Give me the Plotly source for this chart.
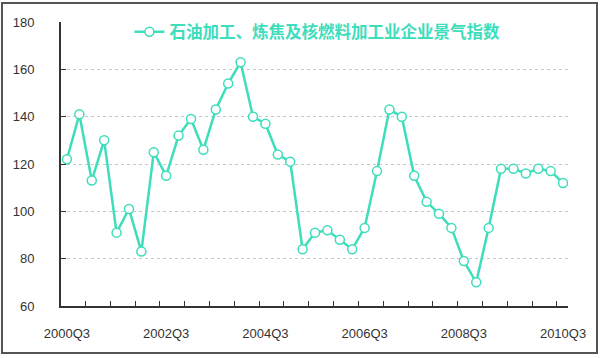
import plotly.graph_objects as go

quarters = ["2000Q3","2000Q4","2001Q1","2001Q2","2001Q3","2001Q4","2002Q1","2002Q2",
            "2002Q3","2002Q4","2003Q1","2003Q2","2003Q3","2003Q4","2004Q1","2004Q2",
            "2004Q3","2004Q4","2005Q1","2005Q2","2005Q3","2005Q4","2006Q1","2006Q2",
            "2006Q3","2006Q4","2007Q1","2007Q2","2007Q3","2007Q4","2008Q1","2008Q2",
            "2008Q3","2008Q4","2009Q1","2009Q2","2009Q3","2009Q4","2010Q1","2010Q2",
            "2010Q3"]
index_values = [122, 141, 113, 130, 91, 101, 83, 125, 115, 132, 139, 126, 143, 154,
                163, 140, 137, 124, 121, 84, 91, 92, 88, 84, 93, 117, 143, 140, 115,
                104, 99, 93, 79, 70, 93, 118, 118, 116, 118, 117, 112]
series_name = "石油加工、炼焦及核燃料加工业企业景气指数"
label_quarters = ["2000Q3", "2002Q3", "2004Q3", "2006Q3", "2008Q3", "2010Q3"]

xs = list(range(len(quarters)))
label_pos = [quarters.index(q) for q in label_quarters]
minor_pos = [i + 1.5 for i in range(0, len(quarters) - 1, 2)]

color = "#3EDDBC"

fig = go.Figure()
fig.add_trace(go.Scatter(
    x=xs, y=index_values, mode="lines+markers", name=series_name,
    line=dict(color=color, width=2.5),
    marker=dict(symbol="circle", size=9, color="white",
                line=dict(color=color, width=1.5)),
))

fig.update_layout(
    width=600, height=358,
    margin=dict(l=61, r=32, t=22, b=52),
    paper_bgcolor="white", plot_bgcolor="white",
    font=dict(family="Liberation Sans, Arial, sans-serif", color="#333333"),
    showlegend=True,
    legend=dict(orientation="h", x=0.135, xanchor="left", y=0.965, yanchor="middle",
                bgcolor="rgba(0,0,0,0)",
                font=dict(family="Noto Sans CJK SC", size=16.5, color=color,
                          weight="bold")),
    xaxis=dict(range=[-0.48, 40.4], tickvals=label_pos, ticktext=label_quarters,
               ticks="", showgrid=False, zeroline=False,
               showline=True, linecolor="#333333", linewidth=2,
               tickfont=dict(size=13, color="#333333"),
               ticklabelstandoff=14,
               minor=dict(tickvals=minor_pos, ticks="inside", ticklen=5,
                          tickcolor="#333333", tickwidth=1, showgrid=False)),
    yaxis=dict(range=[60, 180], dtick=20, ticks="inside", ticklen=5,
               tickcolor="#333333", showline=True, linecolor="#333333", linewidth=2,
               showgrid=True, gridcolor="#c8c8c8", griddash="3px,3px", gridwidth=1,
               zeroline=False, tickfont=dict(size=13, color="#333333"),
               ticklabelstandoff=22),
)

# outer frame of the picture
fig.add_shape(type="rect", xref="paper", yref="paper",
              x0=-0.1164, x1=1.0572, y0=-0.1655, y1=1.0669,
              line=dict(color="#555555", width=2), fillcolor="rgba(0,0,0,0)",
              layer="above")

fig.write_html("out.html")
